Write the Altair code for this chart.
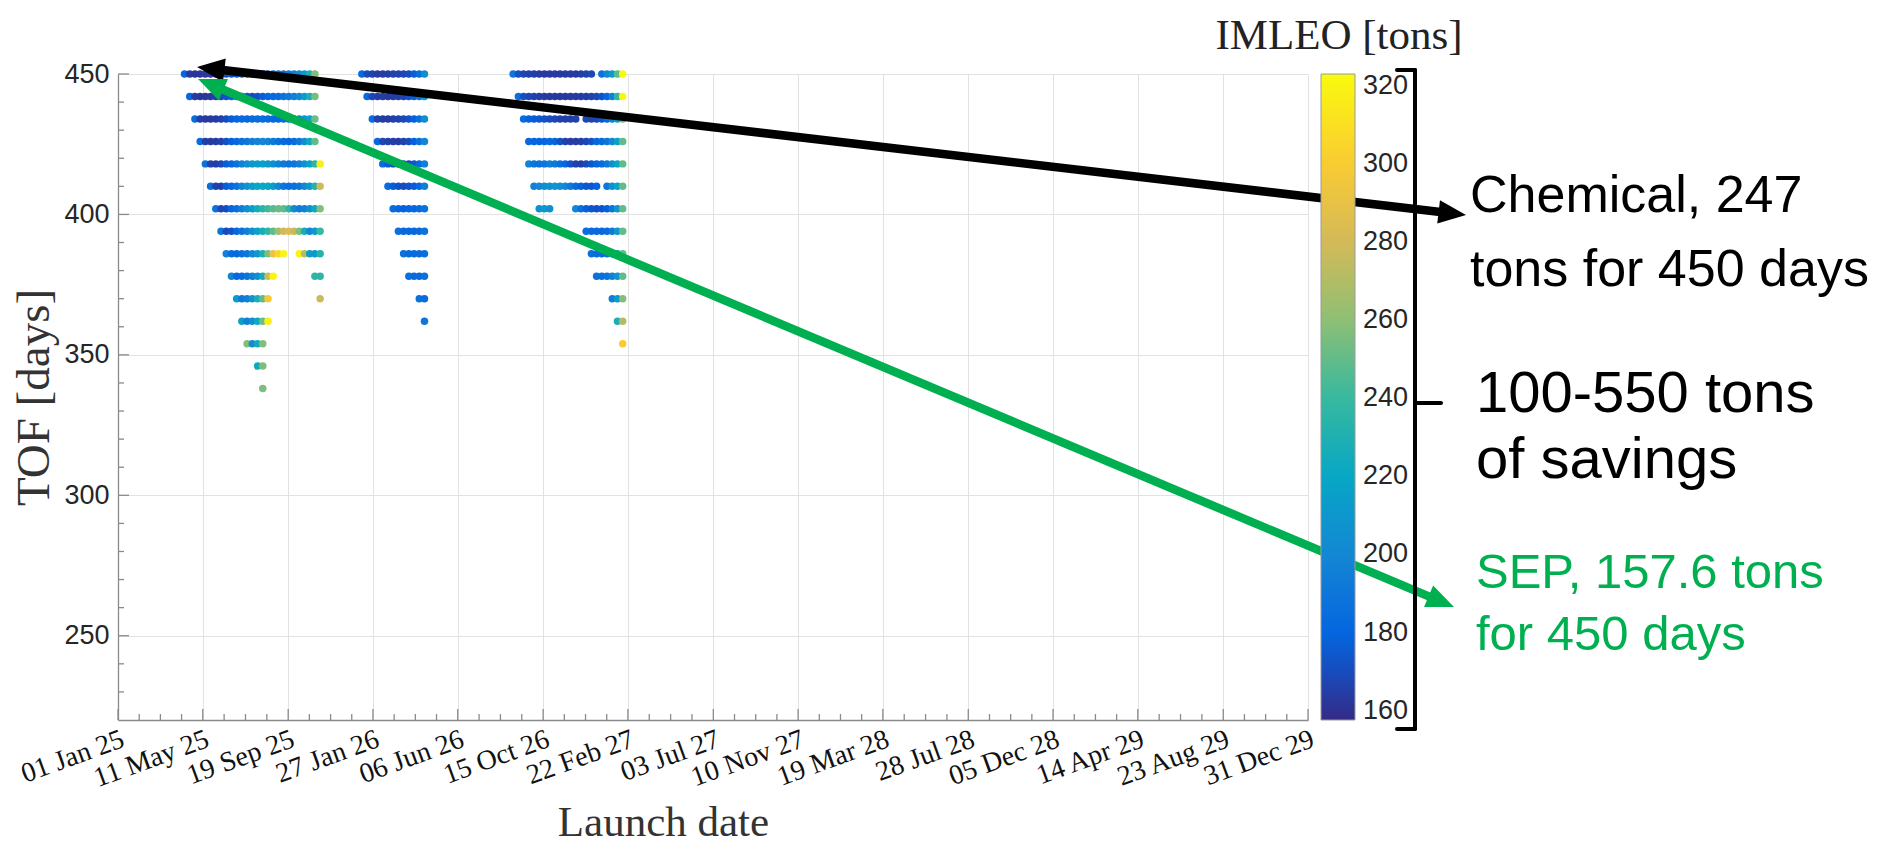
import math
import altair as alt
import pandas as pd

# ---------------- data ----------------
# Launch-date grid of the porkchop: first grid date and step (days)
GRID_START = "2025-04-13"
GRID_STEP_DAYS = 8

# Window A (2025)
TOF_A = [450, 442, 434, 426, 418, 410, 402, 394, 386, 378, 370, 362, 354, 346, 338]
START_A = [0, 1, 2, 3, 4, 5, 6, 7, 8, 9, 10, 11, 12, 14, 15]
IMLEO_A = [
    [180, 163, 162, 162, 163, 164, 166, 168, 170, 172, 175, 177, 178, 180, 180, 182, 182, 184, 186, 188, 192, 196, 202, 212, 228, 258],
    [182, 164, 162, 162, 163, 165, 168, 172, 176, 178, 176, 172, 170, 172, 176, 180, 182, 184, 188, 192, 196, 202, 212, 228, 255],
    [184, 165, 163, 163, 164, 166, 170, 176, 180, 182, 182, 183, 184, 185, 184, 182, 182, 185, 188, 192, 198, 206, 218, 252],
    [185, 165, 163, 164, 166, 172, 178, 182, 186, 190, 194, 198, 200, 198, 192, 186, 182, 180, 184, 192, 204, 222, 250],
    [188, 167, 165, 168, 176, 182, 188, 196, 204, 210, 214, 216, 212, 206, 198, 192, 188, 190, 196, 206, 218, 236, 318],
    [186, 166, 165, 176, 182, 188, 198, 208, 215, 220, 222, 220, 214, 200, 190, 186, 186, 190, 200, 212, 232, 280],
    [188, 168, 170, 180, 186, 194, 204, 214, 226, 234, 242, 248, 252, 250, 236, 204, 194, 196, 206, 222, 258],
    [190, 170, 172, 182, 188, 196, 206, 216, 226, 236, 250, 266, 280, 284, 276, 256, 226, 200, 212, 240],
    [196, 184, 182, 186, 190, 200, 210, 228, 256, 292, 306, 320, None, None, 320, 272, 214, 210, 232],
    [198, 182, 184, 188, 196, 204, 226, 278, 320, None, None, None, None, None, None, None, 236, 236],
    [212, 192, 196, 208, 228, 250, 298, None, None, None, None, None, None, None, None, None, 278],
    [215, 196, 206, 222, 252, 318],
    [258, 204, 224, 258],
    [222, 256],
    [256],
]

# Window B (2026)
TOF_B = [450, 442, 434, 426, 418, 410, 402, 394, 386, 378, 370, 362]
START_B = [34, 35, 36, 37, 38, 39, 40, 41, 42, 43, 45, 46]
IMLEO_B = [
    [182, 170, 166, 164, 164, 165, 166, 166, 168, 170, 176, 184, 205],
    [184, 168, 165, 164, 163, 164, 165, 166, 170, 178, 188, 206],
    [184, 166, 164, 164, 165, 166, 168, 172, 178, 186, 204],
    [182, 168, 166, 165, 164, 166, 170, 178, 186, 200],
    [184, 176, 172, 168, 168, 170, 174, 182, 196],
    [184, 176, 172, 170, 172, 176, 182, 194],
    [184, 180, 178, 180, 182, 184, 188],
    [186, 182, 182, 182, 184, 188],
    [186, 183, 183, 184, 186],
    [186, 183, 183, 186],
    [186, 184],
    [190],
]

# Window C (2026-2027)
TOF_C = [450, 442, 434, 426, 418, 410, 402, 394, 386, 378, 370, 362, 354]
START_C = [63, 64, 65, 66, 66, 67, 68, 77, 78, 79, 82, 83, 84]
IMLEO_C = [
    [190, 172, 168, 166, 165, 164, 163, 163, 163, 163, 163, 164, 164, 165, 166, 168, None, 188, 200, 212, 248, 322],
    [186, 172, 168, 166, 165, 164, 163, 163, 163, 163, 163, 163, 164, 165, 166, 168, 172, 180, 196, 236, 322],
    [184, 178, 176, 175, 172, 170, 168, 166, 165, 165, 166, None, 168, 166, 168, 172, 182, 196, 218, 252],
    [182, 180, 180, 180, 182, 180, 172, 166, 164, 164, 165, 168, 172, 180, 184, 190, 200, 218, 250],
    [198, 190, 188, 190, 194, 192, 186, 180, 172, 166, 165, 168, 174, 180, 184, 192, 204, 220, 250],
    [196, 200, 204, 206, 208, 206, 200, 192, 184, 178, 174, 174, 178, None, 190, 206, 218, 250],
    [206, 210, 206, None, None, None, None, 200, 186, 178, 174, 172, 174, 178, 190, 208, 250],
    [184, 182, 182, 182, 184, 192, 210, 250],
    [186, 184, 184, 186, 192, 214, 250],
    [188, 186, 188, 196, 208, 250],
    [194, 212, 258],
    [228, 270],
    [300],
]

# Axes
X_TICK_DATES = ["2025-01-01", "2025-05-11", "2025-09-19", "2026-01-27", "2026-06-06",
                "2026-10-15", "2027-02-22", "2027-07-03", "2027-11-10", "2028-03-19",
                "2028-07-28", "2028-12-05", "2029-04-14", "2029-08-23", "2029-12-31"]
Y_TICKS = [250, 300, 350, 400, 450]
Y_MINOR = [230, 240, 260, 270, 280, 290, 310, 320, 330, 340, 360, 370, 380, 390, 410, 420, 430, 440]
CB_MIN, CB_MAX = 157.6, 323.0
CB_TICKS = [160, 180, 200, 220, 240, 260, 280, 300, 320]
PARULA = ["#352A87", "#0363E1", "#1485D4", "#06A7C6", "#38B99E",
          "#92BF73", "#D9BA56", "#FCCE2E", "#F9FB0E"]

# ---------------- build table ----------------
def build(tofs, starts, vals):
    out = []
    base = pd.Timestamp(GRID_START)
    for tof, k0, row in zip(tofs, starts, vals):
        for i, v in enumerate(row):
            if v is None:
                continue
            out.append({"launch": base + pd.Timedelta(days=GRID_STEP_DAYS * (k0 + i)),
                        "tof": tof, "imleo": v})
    return out

df = pd.DataFrame(build(TOF_A, START_A, IMLEO_A) + build(TOF_B, START_B, IMLEO_B)
                  + build(TOF_C, START_C, IMLEO_C))

# ---------------- layout ----------------
PAGE_W, PAGE_H = 1867, 841
OX, OY = 118, 74          # plot origin on the page
W, H = 1190, 646
PAD = {"left": OX - 8, "top": OY - 8, "right": PAGE_W - (OX - 8) - W,
       "bottom": PAGE_H - (OY - 8) - H}
CB_X, CB_W = 1321, 34      # colorbar left edge (page px) and thickness

SERIF = "Liberation Serif"
SANS = "Liberation Sans"
AXIS_GRAY = "#8a8a8a"
TXT = "#262626"
GREEN = "#00B050"

def dt(s):
    y, m, d = (int(p) for p in s.split("-"))
    return alt.DateTime(year=y, month=m, date=d)

xscale = alt.Scale(domain=[dt("2025-01-01"), dt("2029-12-31")])
yscale = alt.Scale(domain=[220, 450], nice=False, zero=False)
cb_stops = [CB_MIN + i * (CB_MAX - CB_MIN) / (len(PARULA) - 1) for i in range(len(PARULA))]

scatter = alt.Chart(df).mark_circle(size=56, opacity=1).encode(
    x=alt.X("launch:T", scale=xscale, axis=alt.Axis(
        values=[dt(s) for s in X_TICK_DATES], format="%d %b %y", labelAngle=-20,
        labelAlign="right", labelBaseline="top", labelFont=SERIF, labelFontSize=28,
        labelColor="#111", labelPadding=5, ticks=False, tickSize=0, grid=True,
        labelOverlap=False, labelBound=False, labelFlush=False,
        title="Launch date", titleFont=SERIF, titleFontSize=43, titleFontWeight="normal",
        titleColor="#333", titleX=545, titleY=115, titleAlign="center",
        titleBaseline="alphabetic")),
    y=alt.Y("tof:Q", scale=yscale, axis=alt.Axis(
        values=Y_TICKS, labelFont=SANS, labelFontSize=27, labelColor=TXT,
        labelPadding=9, ticks=False, tickSize=0, grid=True,
        title="TOF [days]", titleFont=SERIF, titleFontSize=47, titleFontWeight="normal",
        titleColor="#333", titleX=-84, titleY=H / 2, titleAngle=-90,
        titleAlign="center", titleBaseline="middle")),
    color=alt.Color("imleo:Q", scale=alt.Scale(domain=cb_stops, range=PARULA,
                                               interpolate="rgb"),
                    legend=alt.Legend(orient="none", legendX=CB_X - OX, legendY=0,
                                      direction="vertical", gradientLength=H,
                                      gradientThickness=CB_W, title=None, values=CB_TICKS,
                                      labelFont=SANS, labelFontSize=27, labelColor=TXT,
                                      labelOffset=8, padding=0, offset=0,
                                      gradientStrokeColor="#9a9a9a",
                                      gradientStrokeWidth=1)),
)

# inward axis ticks (MATLAB style)
def quarter_dates():
    ts = [pd.Timestamp(s) for s in X_TICK_DATES]
    out = []
    for a, b in zip(ts[:-1], ts[1:]):
        for f in (0.25, 0.5, 0.75):
            out.append(a + (b - a) * f)
    return out

xmaj = alt.Chart(pd.DataFrame({"launch": [pd.Timestamp(s) for s in X_TICK_DATES]})).mark_rule(
    color=AXIS_GRAY, strokeWidth=1.3).encode(x="launch:T", y=alt.value(H), y2=alt.value(H - 11))
xmin = alt.Chart(pd.DataFrame({"launch": quarter_dates()})).mark_rule(
    color=AXIS_GRAY, strokeWidth=1.3).encode(x="launch:T", y=alt.value(H), y2=alt.value(H - 6))
ymaj = alt.Chart(pd.DataFrame({"tof": Y_TICKS})).mark_rule(
    color=AXIS_GRAY, strokeWidth=1.3).encode(y="tof:Q", x=alt.value(0), x2=alt.value(11))
ymin = alt.Chart(pd.DataFrame({"tof": Y_MINOR})).mark_rule(
    color=AXIS_GRAY, strokeWidth=1.3).encode(y="tof:Q", x=alt.value(0), x2=alt.value(6))

# ---------------- annotations (page pixel positions) ----------------
ONE = alt.Data(values=[{"k": 0}])

def seg(x1, y1, x2, y2, color, width, cap="butt"):
    return alt.Chart(ONE).mark_rule(color=color, strokeWidth=width, strokeCap=cap).encode(
        x=alt.value(x1 - OX), y=alt.value(y1 - OY), x2=alt.value(x2 - OX), y2=alt.value(y2 - OY))

HEAD = "M0,0L0.85,2L-0.85,2Z"

def head(xt, yt, ux, uy, color):
    ang = math.degrees(math.atan2(ux, -uy)) % 360
    return alt.Chart(ONE).mark_point(shape=HEAD, filled=True, color=color, opacity=1,
                                      size=760, angle=ang, strokeWidth=0).encode(
        x=alt.value(xt - OX), y=alt.value(yt - OY))

def arrow(p, q, color, width=8.5):
    dx, dy = q[0] - p[0], q[1] - p[1]
    L = math.hypot(dx, dy)
    ux, uy = dx / L, dy / L
    s = 17
    return [seg(p[0] + ux * s, p[1] + uy * s, q[0] - ux * s, q[1] - uy * s, color, width),
            head(q[0], q[1], ux, uy, color), head(p[0], p[1], -ux, -uy, color)]

def label(x, y, text, size, color="black", font=SANS, align="left"):
    return alt.Chart(ONE).mark_text(text=text, font=font, fontSize=size, color=color,
                                    align=align, baseline="alphabetic").encode(
        x=alt.value(x - OX), y=alt.value(y - OY))

# small inner ticks on the colorbar's right edge
cb_ticks = []
for v in CB_TICKS:
    yy = OY + H - (v - CB_MIN) / (CB_MAX - CB_MIN) * H
    cb_ticks.append(seg(CB_X + CB_W - 6, yy, CB_X + CB_W, yy, "#555", 1.2))

ann = []
ann += arrow((197, 67), (1466, 215), "black")
ann += arrow((198, 79), (1454, 607), GREEN)
# bracket
ann += [seg(1415, 70, 1415, 729, "black", 4, "round"),
        seg(1397, 70, 1415, 70, "black", 4, "round"),
        seg(1397, 729, 1415, 729, "black", 4, "round"),
        seg(1415, 403, 1441, 403, "black", 4, "round")]
ann += [label(1339, 49, "IMLEO [tons]", 43, "#222", SERIF, "center"),
        label(1470, 212, "Chemical, 247", 52),
        label(1470, 286, "tons for 450 days", 52),
        label(1476, 412, "100-550 tons", 58),
        label(1476, 478, "of savings", 58),
        label(1476, 588, "SEP, 157.6 tons", 49, GREEN),
        label(1476, 650, "for 450 days", 49, GREEN)]

chart = alt.layer(scatter, xmaj, xmin, ymaj, ymin, *cb_ticks, *ann).properties(
    width=W, height=H, autosize=alt.AutoSizeParams(type="none"), padding=PAD,
).configure_view(stroke=None).configure_axis(
    gridColor="#e2e2e2", gridWidth=1, domainColor=AXIS_GRAY, domainWidth=1.3,
)

chart.save("out.html", embed_options={"renderer": "svg", "actions": False})
